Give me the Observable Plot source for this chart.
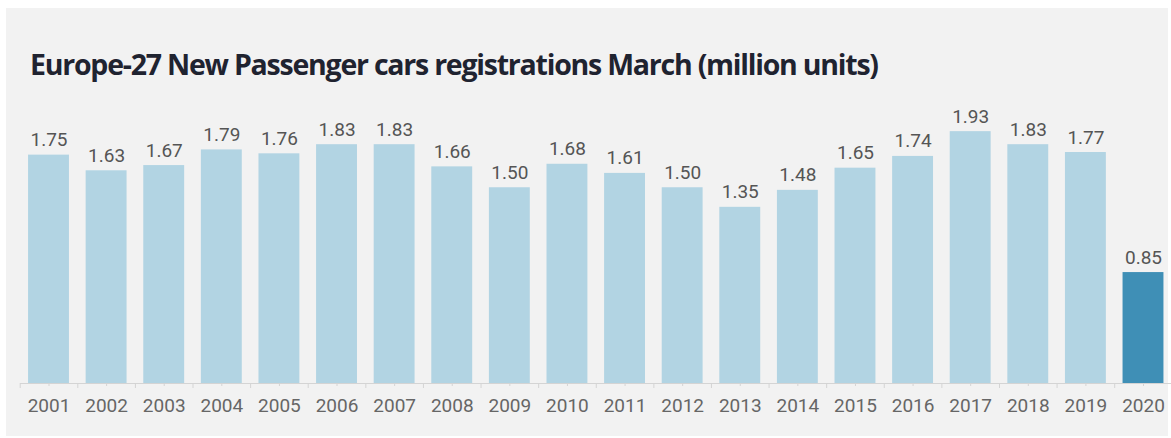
<!DOCTYPE html>
<html>
<head>
<meta charset="utf-8">
<script src="https://cdn.jsdelivr.net/npm/d3@7"></script>
<script src="https://cdn.jsdelivr.net/npm/@observablehq/plot@0.6"></script>
<style>
  html, body { margin: 0; padding: 0; background: #ffffff; }
  #wrap { position: relative; width: 1171px; height: 438px; overflow: hidden; background: #ffffff; }
  #panel { position: absolute; left: 6px; top: 8px; width: 1162px; height: 428px; background: #f2f2f2; }
  #title { position: absolute; left: 30px; top: 44px; font-family: "Open Sans", sans-serif; font-weight: 700; font-size: 28.5px; line-height: 40px; color: #1f2330; white-space: nowrap; }
  #chart { position: absolute; left: 0; top: 0; }
</style>
</head>
<body>
<div id="wrap">
  <div id="panel"></div>
  <div id="title">Europe-27 New Passenger cars registrations March (million units)</div>
  <div id="chart"></div>
</div>
<script>
const years = ["2001","2002","2003","2004","2005","2006","2007","2008","2009","2010","2011","2012","2013","2014","2015","2016","2017","2018","2019","2020"];
const registrations = [1.75,1.63,1.67,1.79,1.76,1.83,1.83,1.66,1.50,1.68,1.61,1.50,1.35,1.48,1.65,1.74,1.93,1.83,1.77,0.85];
const highlightYear = "2020";

const data = years.map((y, i) => ({year: y, value: registrations[i], hi: y === highlightYear}));
const x0 = 19.7, x1 = 1171.8;
const step = (x1 - x0) / years.length;

// fit title to the reference width
const title = document.getElementById("title");
const targetW = 848;
const w0 = title.getBoundingClientRect().width;
const chars = title.textContent.length;
title.style.letterSpacing = ((targetW - w0) / chars).toFixed(2) + "px";

const chart = Plot.plot({
  width: 1171,
  height: 438,
  marginTop: 122,
  marginBottom: 55,
  marginLeft: 20,
  marginRight: 0,
  style: {background: "transparent", fontFamily: "Roboto, sans-serif", overflow: "visible"},
  x: {domain: years, range: [x0, x1], paddingInner: 0.29, paddingOuter: 0.145, round: false},
  y: {domain: [0, 2], axis: null},
  marks: [
    Plot.barY(data, {x: "year", y: "value", fill: d => d.hi ? "#3f8fb6" : "#b2d4e3"}),
    Plot.ruleY([0], {stroke: "#d4d4d4", strokeWidth: 1}),
    Plot.ruleX(data, {x: "year", y1: 0, y2: 0, insetBottom: -3, stroke: "#d4d4d4"}),
    Plot.ruleX(data, {x: "year", y1: 0, y2: 0, insetBottom: -5, dx: -step / 2, stroke: "#d4d4d4"}),
    Plot.text(data, {x: "year", y: "value", text: d => d3.format(".2f")(d.value), dy: -9, lineAnchor: "bottom", fontSize: 19, fill: "#555"}),
    Plot.axisX({tickSize: 0, tickPadding: 15, fontSize: 19, color: "#666", label: null})
  ]
});
document.getElementById("chart").appendChild(chart);
</script>
</body>
</html>
